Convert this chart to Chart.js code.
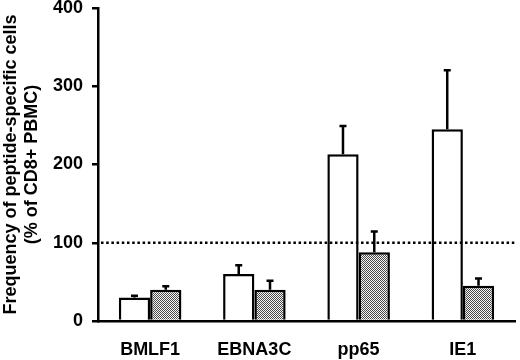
<!DOCTYPE html>
<html>
<head>
<meta charset="utf-8">
<script src="https://cdn.jsdelivr.net/npm/chart.js@4.4.0/dist/chart.umd.min.js"></script>
<style>
html,body{margin:0;padding:0;background:#fff;}
#wrap{width:520px;height:360px;position:relative;}
</style>
</head>
<body>
<div id="wrap"><canvas id="c" width="520" height="360"></canvas></div>
<script>
const categories = ['BMLF1', 'EBNA3C', 'pp65', 'IE1'];
const openValues = [30, 60, 213, 245];
const openErrTop = [33, 72, 250, 321];
const shadedValues = [40, 40, 88, 45];
const shadedErrTop = [45, 52, 115, 55];
const yTicks = [0, 100, 200, 300, 400];
const referenceLine = 100;

function makePattern() {
  const p = document.createElement('canvas');
  p.width = 2; p.height = 2;
  const g = p.getContext('2d');
  g.fillStyle = '#f6f6f6'; g.fillRect(0, 0, 2, 2);
  g.fillStyle = '#4a4a4a';
  g.fillRect(0, 0, 1, 1); g.fillRect(1, 1, 1, 1);
  return document.getElementById('c').getContext('2d').createPattern(p, 'repeat');
}

const FONT = "'Liberation Sans', Arial, sans-serif";

const errorBars = {
  id: 'errorBars',
  afterDatasetsDraw(chart) {
    const ctx = chart.ctx;
    const y = chart.scales.y;
    const tops = [openErrTop, shadedErrTop];
    ctx.save();
    ctx.strokeStyle = '#000';
    ctx.lineWidth = 2.5;
    chart.data.datasets.forEach((ds, di) => {
      const meta = chart.getDatasetMeta(di);
      meta.data.forEach((bar, i) => {
        const x = bar.x;
        const yTop = y.getPixelForValue(tops[di][i]);
        const yBar = bar.y;
        ctx.beginPath();
        ctx.moveTo(x, yBar);
        ctx.lineTo(x, yTop);
        ctx.moveTo(x - 3.5, yTop + 0.5);
        ctx.lineTo(x + 3.5, yTop + 0.5);
        ctx.stroke();
      });
    });
    ctx.restore();
  }
};

const refLine = {
  id: 'refLine',
  afterDatasetsDraw(chart) {
    const ctx = chart.ctx;
    const y = chart.scales.y.getPixelForValue(referenceLine);
    const a = chart.chartArea;
    ctx.save();
    ctx.strokeStyle = '#000';
    ctx.lineWidth = 2.5;
    ctx.setLineDash([2.5, 2.7]);
    ctx.beginPath();
    ctx.moveTo(a.left + 3, y);
    ctx.lineTo(a.right, y);
    ctx.stroke();
    ctx.restore();
  }
};

new Chart(document.getElementById('c'), {
  type: 'bar',
  data: {
    labels: categories,
    datasets: [
      { data: openValues, backgroundColor: '#ffffff', borderColor: '#000', borderWidth: 2.5, borderSkipped: 'start' },
      { data: shadedValues, backgroundColor: makePattern(), borderColor: '#000', borderWidth: 2.5, borderSkipped: 'start' }
    ]
  },
  options: {
    responsive: false,
    animation: false,
    devicePixelRatio: 1,
    layout: { padding: { top: 0, right: 5, left: 0, bottom: 0 } },
    plugins: { legend: { display: false }, tooltip: { enabled: false } },
    datasets: { bar: { categoryPercentage: 0.6, barPercentage: 1.0 } },
    scales: {
      x: {
        grid: { display: false, drawTicks: false },
        border: { color: '#000', width: 2.5 },
        ticks: { color: '#000', font: { family: FONT, size: 18, weight: 'bold' }, padding: 18 },
        afterFit(s) { s.height = 39; }
      },
      y: {
        min: 0, max: 400,
        afterBuildTicks(s) { s.ticks = yTicks.map(v => ({ value: v })); },
        grid: { display: true, drawOnChartArea: false, drawTicks: true, tickLength: 6, color: '#000', lineWidth: 2.5 },
        border: { color: '#000', width: 2.5 },
        ticks: { color: '#000', font: { family: FONT, size: 18, weight: 'bold' }, padding: 9 },
        title: {
          display: true,
          text: ['Frequency of peptide-specific cells', '(% of CD8+ PBMC)'],
          color: '#000',
          font: { family: FONT, size: 18, weight: 'bold', lineHeight: 1.2 },
          padding: { top: 0, bottom: 0 }
        },
        afterFit(s) { s.width = 98; s.paddingTop = 8; s.paddingBottom = 0; }
      }
    }
  },
  plugins: [refLine, errorBars]
});
</script>
</body>
</html>
